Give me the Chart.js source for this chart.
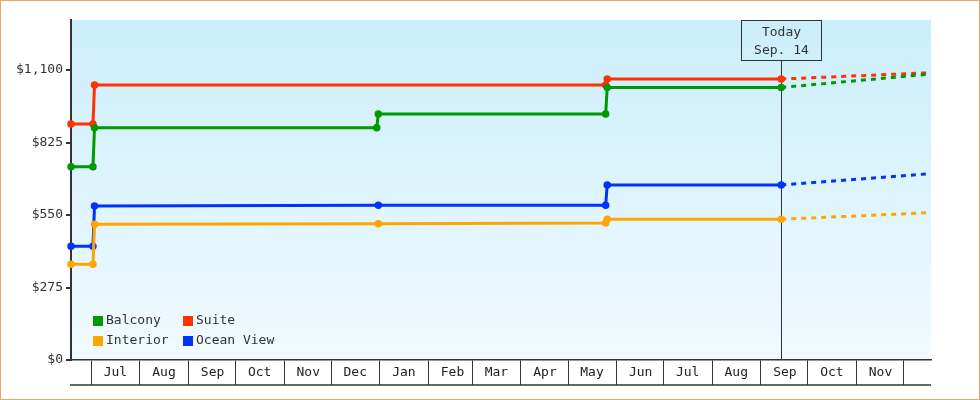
<!DOCTYPE html>
<html>
<head>
<meta charset="utf-8">
<script src="https://cdn.jsdelivr.net/npm/chart.js@4"></script>
<style>
  body { margin: 0; background: #fff; }
  #wrap { width: 980px; height: 400px; box-sizing: border-box; border: 1px solid #e9a862; position: relative; }
</style>
</head>
<body>
<div id="wrap"><canvas id="prices"></canvas></div>
<script>
// fare history
const balconyDates = ['2022-06-18', '2022-07-02', '2022-07-03', '2022-12-30', '2022-12-31', '2023-05-25', '2023-05-26', '2023-09-14'];
const balconyPrices = [733, 733, 881, 881, 933, 933, 1034, 1034];

const suiteDates = ['2022-06-18', '2022-07-02', '2022-07-03', '2023-05-25', '2023-05-26', '2023-09-14'];
const suitePrices = [895, 895, 1043, 1043, 1066, 1066];

const interiorDates = ['2022-06-18', '2022-07-02', '2022-07-03', '2022-12-31', '2023-05-25', '2023-05-26', '2023-09-14'];
const interiorPrices = [363, 363, 515, 517, 520, 534, 534];

const oceanDates = ['2022-06-18', '2022-07-02', '2022-07-03', '2022-12-31', '2023-05-25', '2023-05-26', '2023-09-14'];
const oceanPrices = [432, 432, 584, 587, 587, 664, 664];

// forecast from today to the end of the range
const forecastDates = ['2023-09-14', '2023-12-18'];
const balconyForecast = [1034, 1085];
const suiteForecast = [1066, 1090];
const interiorForecast = [534, 559];
const oceanForecast = [664, 707];

const monthStarts = ['2022-07-01', '2022-08-01', '2022-09-01', '2022-10-01', '2022-11-01', '2022-12-01',
  '2023-01-01', '2023-02-01', '2023-03-01', '2023-04-01', '2023-05-01', '2023-06-01',
  '2023-07-01', '2023-08-01', '2023-09-01', '2023-10-01', '2023-11-01', '2023-12-01'];
const monthLabels = ['Jul', 'Aug', 'Sep', 'Oct', 'Nov', 'Dec', 'Jan', 'Feb', 'Mar', 'Apr', 'May', 'Jun',
  'Jul', 'Aug', 'Sep', 'Oct', 'Nov', ''];
const yTicks = [0, 275, 550, 825, 1100];

const rangeStart = '2022-06-18';
const rangeEnd = '2023-12-18';
const today = '2023-09-14';
const todayLines = ['Today', 'Sep. 14'];

const font = { family: 'DejaVu Sans Mono', size: 13 };

// days since Jul 1 2022
function day(s) {
  const p = s.split('-');
  return (Date.UTC(+p[0], +p[1] - 1, +p[2]) - Date.UTC(2022, 6, 1)) / 86400000;
}

function points(dates, values) {
  return dates.map((d, i) => ({ x: day(d), y: values[i] }));
}

function series(label, color, dates, values) {
  return { label: label, data: points(dates, values), borderColor: color, backgroundColor: color,
    borderWidth: 3, pointRadius: 3, pointBorderWidth: 1.5, pointHoverRadius: 3, tension: 0, clip: false };
}

function forecast(color, values) {
  return { label: '', data: points(forecastDates, values), borderColor: color, borderWidth: 3,
    borderDash: [5, 5], pointRadius: 0, tension: 0, forecast: true };
}

// gradient background, today marker, legend, bottom rule of the month row
const decorations = {
  id: 'decorations',
  beforeDatasetsDraw(chart) {
    const ctx = chart.ctx, a = chart.chartArea;
    const x = Math.round(chart.scales.x.getPixelForValue(day(today))) + 0.5;
    ctx.save();
    ctx.strokeStyle = '#333';
    ctx.lineWidth = 1;
    ctx.beginPath();
    ctx.moveTo(x, a.top + 40);
    ctx.lineTo(x, a.bottom);
    ctx.stroke();
    ctx.strokeRect(x - 40, a.top + 0.5, 80, 40);
    ctx.fillStyle = '#333';
    ctx.font = '13px "DejaVu Sans Mono"';
    ctx.textAlign = 'center';
    ctx.textBaseline = 'middle';
    ctx.fillText(todayLines[0], x, a.top + 13);
    ctx.fillText(todayLines[1], x, a.top + 31);
    ctx.restore();
  },
  beforeDraw(chart) {
    const ctx = chart.ctx, a = chart.chartArea;
    const g = ctx.createLinearGradient(0, a.top, 0, a.bottom);
    g.addColorStop(0, '#cbeefb');
    g.addColorStop(1, '#f1faff');
    ctx.save();
    ctx.fillStyle = g;
    ctx.fillRect(a.left, a.top, a.right - a.left, a.bottom - a.top);
    ctx.restore();
  },
  afterDraw(chart) {
    const ctx = chart.ctx, a = chart.chartArea;
    const xs = chart.scales.x;
    ctx.save();
    ctx.strokeStyle = '#333';
    ctx.lineWidth = 1.5;
    ctx.beginPath();
    ctx.moveTo(a.left - 1, xs.bottom);
    ctx.lineTo(a.right, xs.bottom);
    ctx.stroke();

    ctx.font = '13px "DejaVu Sans Mono"';
    ctx.textBaseline = 'middle';
    const items = chart.data.datasets.filter(d => !d.forecast);
    items.forEach((d, i) => {
      const bx = a.left + 22 + (i % 2) * 90;
      const cy = a.bottom - 39 + Math.floor(i / 2) * 20;
      ctx.fillStyle = d.borderColor;
      ctx.fillRect(bx, cy - 5, 10, 10);
      ctx.fillStyle = '#333';
      ctx.fillText(d.label, bx + 13, cy);
    });
    ctx.restore();
  }
};

function mainEvent() {
  const chart = new Chart(document.querySelector('#prices'), {
    type: 'line',
    data: {
      datasets: [
        series('Balcony', '#009900', balconyDates, balconyPrices),
        series('Suite', '#ff3300', suiteDates, suitePrices),
        series('Interior', '#ffa500', interiorDates, interiorPrices),
        series('Ocean View', '#0033ff', oceanDates, oceanPrices),
        forecast('#009900', balconyForecast),
        forecast('#ff3300', suiteForecast),
        forecast('#ffa500', interiorForecast),
        forecast('#0033ff', oceanForecast)
      ]
    },
    options: {
      responsive: true,
      maintainAspectRatio: false,
      animation: false,
      layout: { padding: { top: 19, right: 48, bottom: 14, left: 0 } },
      plugins: { legend: { display: false }, tooltip: { enabled: false } },
      scales: {
        x: {
          type: 'linear',
          min: day(rangeStart),
          max: day(rangeEnd) + 0.5,
          afterBuildTicks: s => { s.ticks = monthStarts.map(d => ({ value: day(d) })); },
          afterFit: s => { s.height = 25; },
          grid: { drawOnChartArea: false, tickLength: 25, color: '#333', lineWidth: 1 },
          border: { color: '#333', width: 1.5 },
          ticks: { autoSkip: false, maxRotation: 0, labelOffset: 24, padding: -20, color: '#222', font: font,
            callback: (v, i) => monthLabels[i] }
        },
        y: {
          min: 0,
          max: 1290,
          afterBuildTicks: s => { s.ticks = yTicks.map(v => ({ value: v })); },
          afterFit: s => { s.width = 70; },
          grid: { drawOnChartArea: false, tickLength: 5, color: '#333', lineWidth: 2 },
          border: { color: '#333', width: 2 },
          ticks: { padding: 3, color: '#333', font: font, callback: v => '$' + v.toLocaleString('en-US') }
        }
      }
    },
    plugins: [decorations]
  });
}

document.addEventListener('DOMContentLoaded', mainEvent);
</script>
</body>
</html>
